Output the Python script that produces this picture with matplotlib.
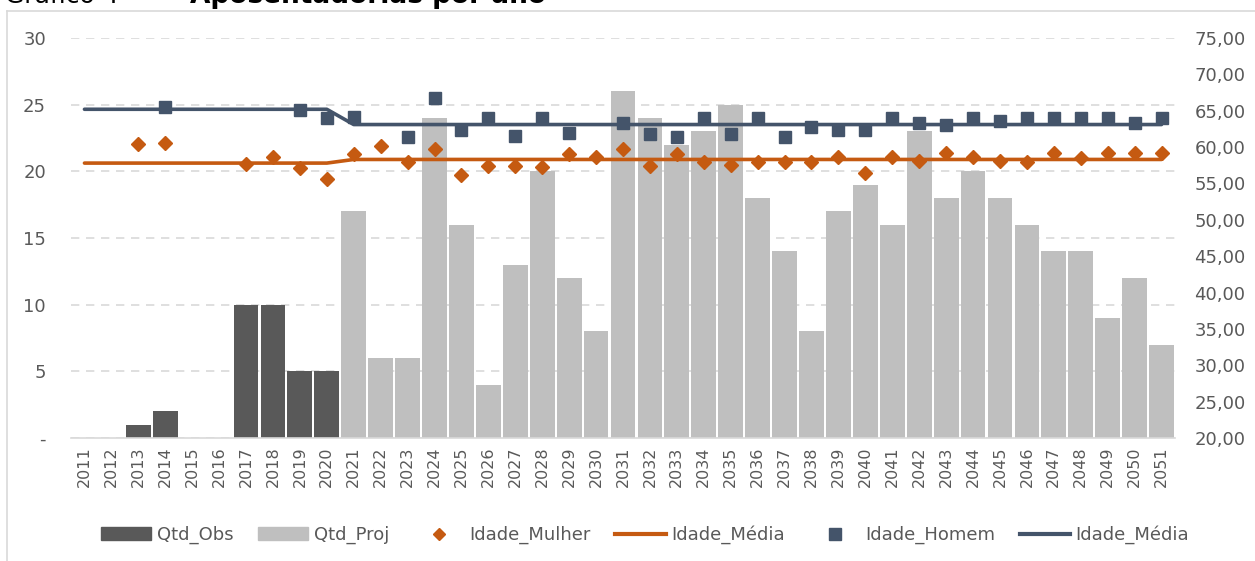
import matplotlib.pyplot as plt
import numpy as np
from matplotlib.lines import Line2D
from matplotlib.patches import Patch

nan = np.nan
anos = list(range(2011, 2052))

qtd_obs = [0, 0, 1, 2, 0, 0, 10, 10, 5, 5]
qtd_proj = [17, 6, 6, 24, 16, 4, 13, 20, 12, 8,
            26, 24, 22, 23, 25, 18, 14, 8, 17, 19,
            16, 23, 18, 20, 18, 16, 14, 14, 9, 12, 7]

idade_mulher = [nan, nan, 60.4, 60.6, nan, nan, 57.7, 58.7, 57.1, 55.6,
                59.0, 60.2, 57.9, 59.7, 56.2, 57.4, 57.4, 57.2, 59.1, 58.7,
                59.7, 57.4, 59.0, 57.9, 57.5, 57.9, 57.9, 57.9, 58.7, 56.4,
                58.7, 58.1, 59.2, 58.7, 58.1, 57.9, 59.2, 58.5, 59.2, 59.2, 59.2]
idade_homem = [nan, nan, nan, 65.5, nan, nan, nan, nan, 65.1, 64.0,
               64.2, nan, 61.4, 66.8, 62.4, 64.0, 61.5, 64.0, 61.9, nan,
               63.3, 61.8, 61.4, 64.0, 61.8, 64.0, 61.4, 62.7, 62.4, 62.4,
               64.0, 63.3, 63.0, 64.0, 63.6, 64.0, 64.0, 64.0, 64.0, 63.3, 64.0]
media_mulher = [57.8] * 10 + [58.3] * 31
media_homem = [65.2] * 10 + [63.1] * 31

c_obs = '#595959'
c_proj = '#BFBFBF'
c_mulher = '#C55A11'
c_homem = '#44546A'
c_txt = '#595959'
c_grid = '#D9D9D9'

plt.rcParams['font.family'] = ['DejaVu Sans']

fig = plt.figure(figsize=(12.55, 5.61), dpi=100)
ax = fig.add_axes([71 / 1255, 1 - 438 / 561, (1175 - 71) / 1255, 400 / 561])
ax2 = ax.twinx()

x = np.arange(len(anos))
n_obs = len(qtd_obs)
ax.bar(x[:n_obs], qtd_obs, width=0.92, color=c_obs, zorder=2)
ax.bar(x[n_obs:], qtd_proj, width=0.92, color=c_proj, zorder=2)

ax.set_xlim(-0.5, len(anos) - 0.5)
ax.set_ylim(0, 30)
ax.set_yticks(range(0, 31, 5))
ax.set_yticklabels(['-'] + [str(v) for v in range(5, 31, 5)])
ax.set_xticks(x)
ax.set_xticklabels([str(a) for a in anos], rotation=90)
ax.grid(True, axis='y', linestyle=(0, (5, 4)), color=c_grid, linewidth=1.2, zorder=0)
ax.set_axisbelow(True)
ax.tick_params(axis='y', length=0, pad=18, labelsize=13, labelcolor=c_txt)
ax.tick_params(axis='x', length=0, pad=6, labelsize=11.5, labelcolor=c_txt)
for s in ['top', 'right', 'left']:
    ax.spines[s].set_visible(False)
ax.spines['bottom'].set_color(c_grid)
ax.spines['bottom'].set_linewidth(1.2)

ax2.plot(x, media_mulher, color=c_mulher, lw=2.6, solid_capstyle='round', zorder=3)
ax2.plot(x, media_homem, color=c_homem, lw=2.6, solid_capstyle='round', zorder=3)
ax2.plot(x, idade_mulher, linestyle='none', marker='D', ms=6.8, color=c_mulher, zorder=4)
ax2.plot(x, idade_homem, linestyle='none', marker='s', ms=9, color=c_homem, zorder=4)
ax2.set_ylim(20, 75)
ax2.set_yticks(range(20, 76, 5))
ax2.set_yticklabels([f'{v},00' for v in range(20, 76, 5)])
ax2.tick_params(axis='y', length=0, pad=14, labelsize=13, labelcolor=c_txt)
for s in ax2.spines.values():
    s.set_visible(False)

handles = [
    Patch(color=c_obs, label='Qtd_Obs'),
    Patch(color=c_proj, label='Qtd_Proj'),
    Line2D([], [], linestyle='none', marker='D', ms=6, color=c_mulher, label='Idade_Mulher'),
    Line2D([], [], color=c_mulher, lw=3, label='Idade_Média'),
    Line2D([], [], linestyle='none', marker='s', ms=8, color=c_homem, label='Idade_Homem'),
    Line2D([], [], color=c_homem, lw=3, label='Idade_Média'),
]
fig.legend(handles=handles, loc='center', bbox_to_anchor=(645 / 1255, 1 - 535 / 561),
           ncol=6, frameon=False, fontsize=13, labelcolor=c_txt,
           handlelength=2.8, handletextpad=0.3, columnspacing=1.35)

# frame of the chart area and the title, cropped at the top as in the source
fig.add_artist(Line2D([7 / 1255, 7 / 1255], [0, 1 - 11 / 561], color=c_grid, lw=1.2))
fig.add_artist(Line2D([7 / 1255, 1], [1 - 11 / 561, 1 - 11 / 561], color=c_grid, lw=1.2))
fig.text(5 / 1255, 1 - 3 / 561, 'Gráfico 4 –', fontsize=18, va='baseline', ha='left', color='black')
fig.text(190 / 1255, 1 - 3 / 561, 'Aposentadorias por ano', fontsize=19, fontweight='bold',
         va='baseline', ha='left', color='black')

fig.savefig('out.png', dpi=100)
